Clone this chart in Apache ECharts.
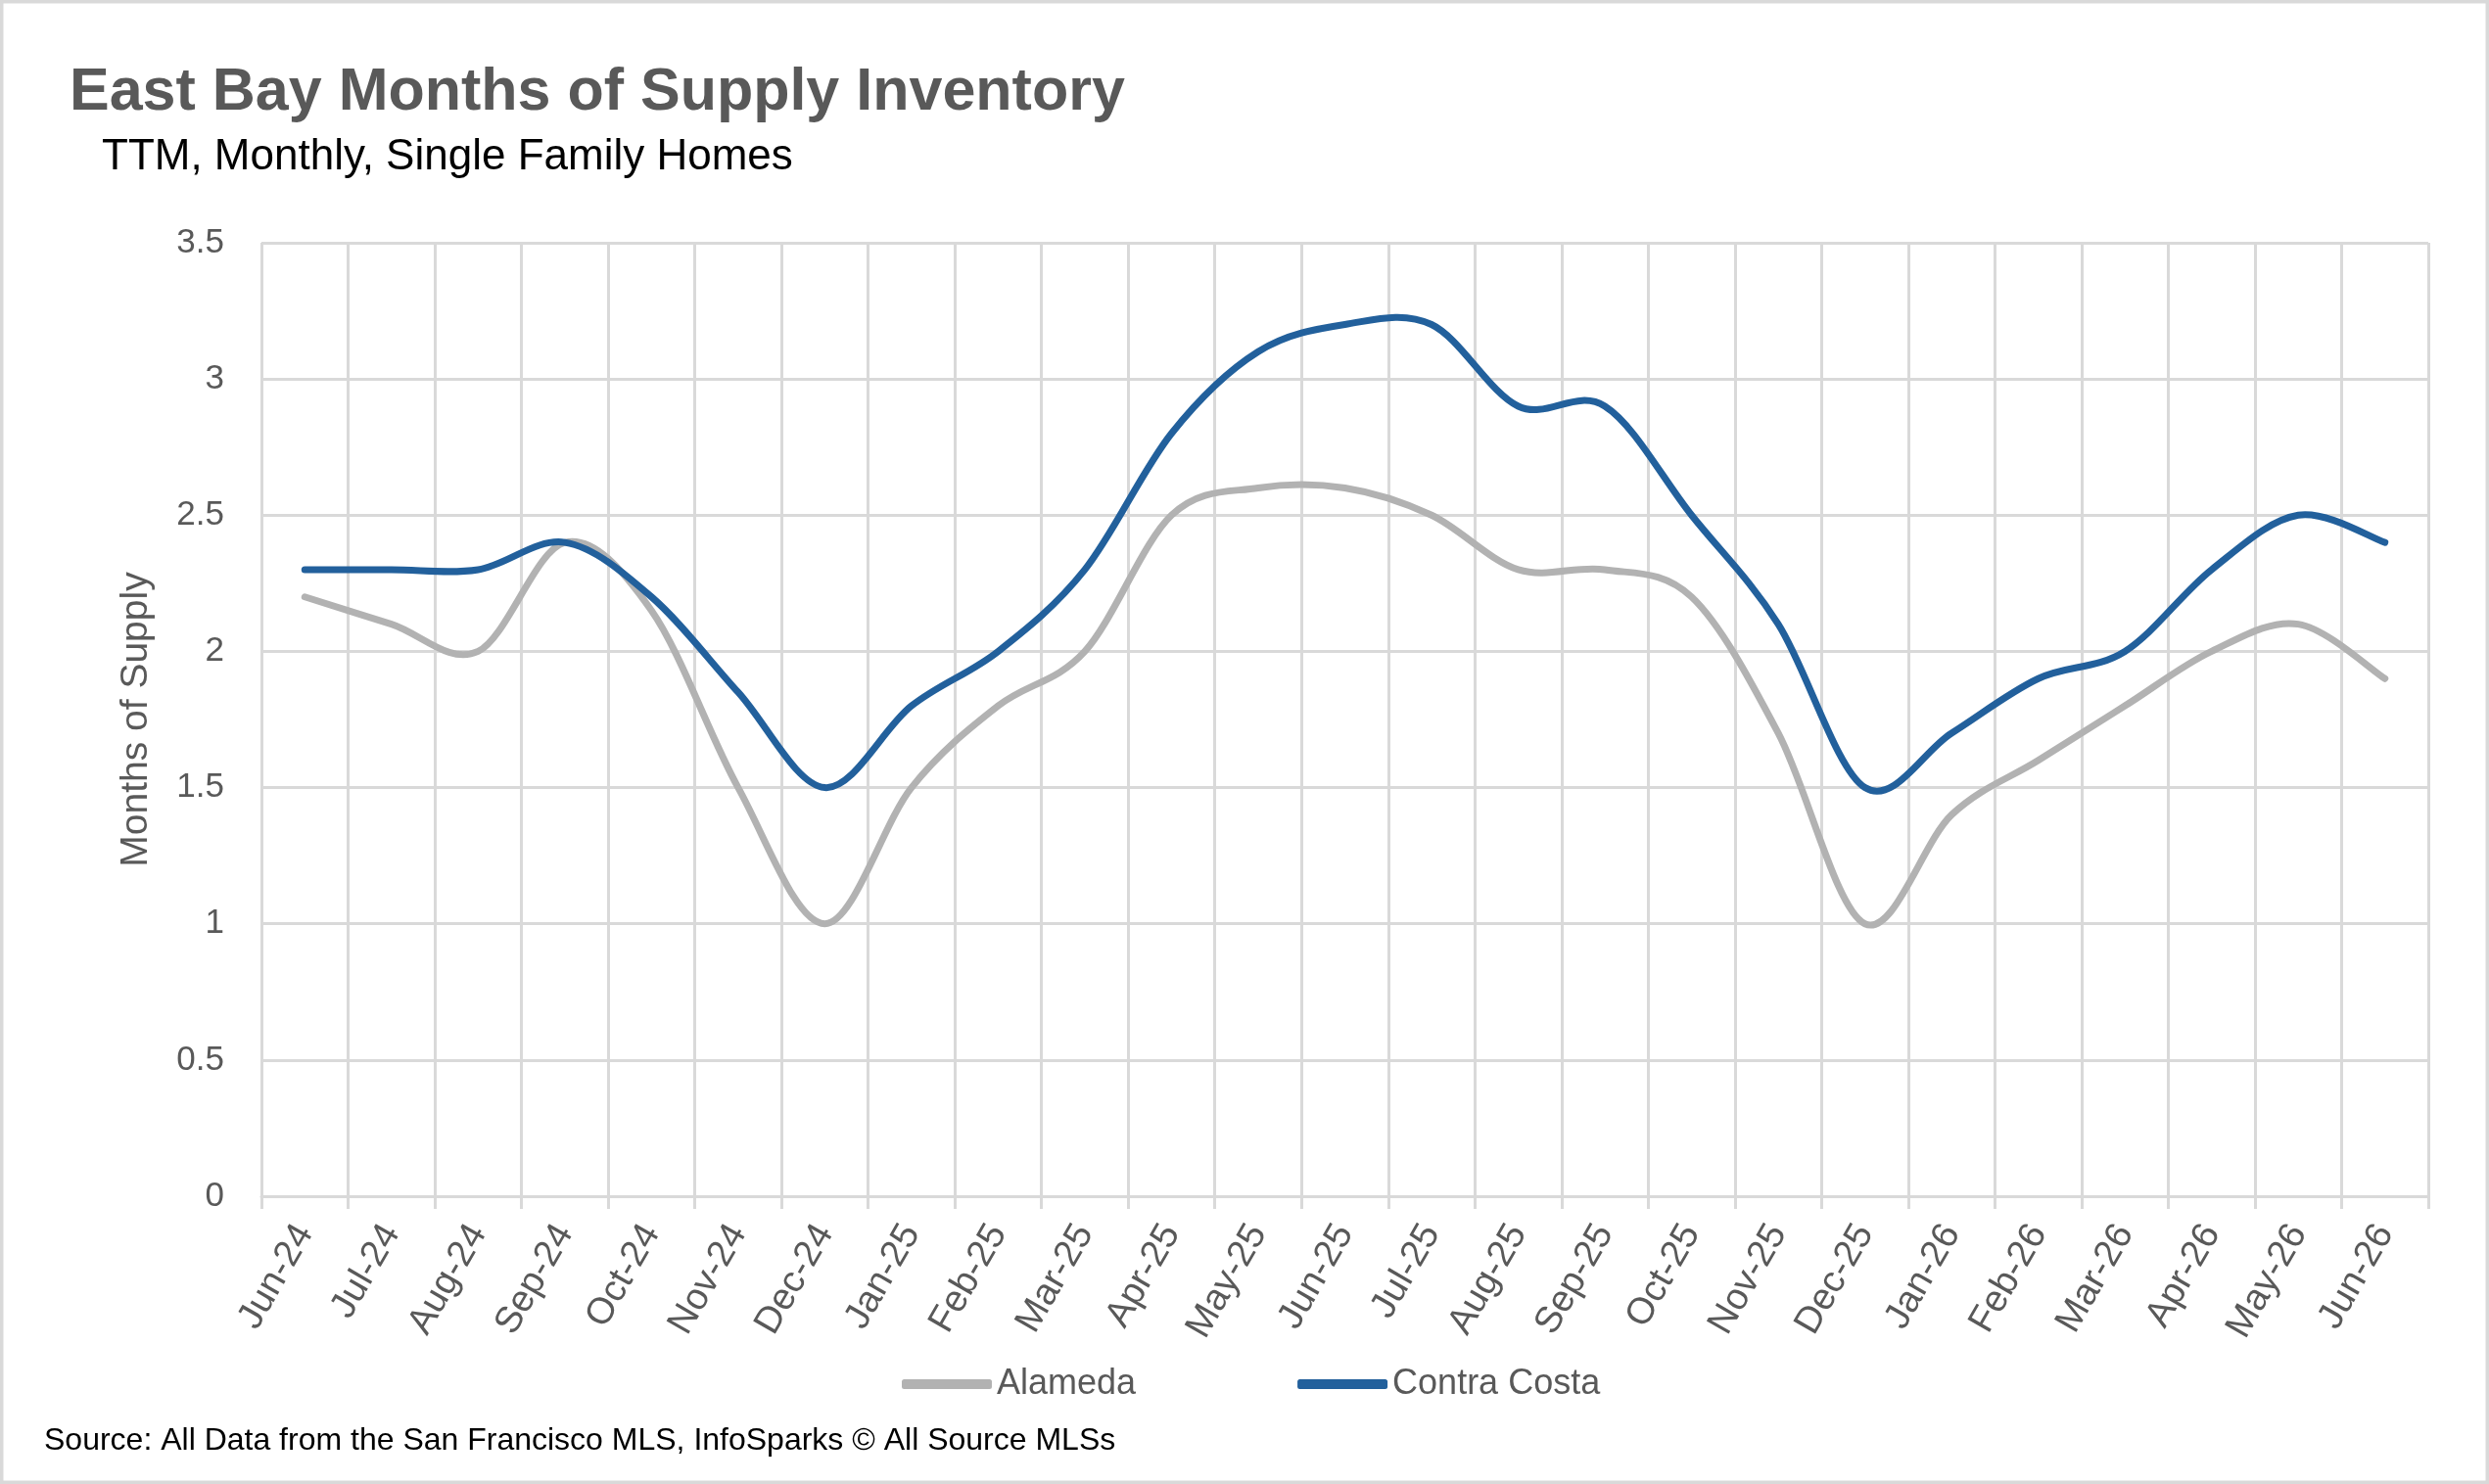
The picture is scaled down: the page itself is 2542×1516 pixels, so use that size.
<!DOCTYPE html>
<html lang="en">
  <head>
    <meta charset="UTF-8" />
    <script src="https://cdn.jsdelivr.net/npm/echarts/dist/echarts.min.js"></script>
    <style>
      html, body { margin: 0; padding: 0; background: #fff; }
      #main { width: 2542px; height: 1516px; }
    </style>
    <title>East Bay Months of Supply Inventory</title>
  </head>
  <body>
    <div id="main"></div>
    <script>
      const months = [
        "Jun-24", "Jul-24", "Aug-24", "Sep-24", "Oct-24", "Nov-24", "Dec-24",
        "Jan-25", "Feb-25", "Mar-25", "Apr-25", "May-25", "Jun-25", "Jul-25",
        "Aug-25", "Sep-25", "Oct-25", "Nov-25", "Dec-25", "Jan-26", "Feb-26",
        "Mar-26", "Apr-26", "May-26", "Jun-26",
      ];
      const alameda = [
        2.2, 2.1, 2.0, 2.4, 2.15, 1.5, 1.0, 1.5, 1.8, 2.0, 2.5, 2.6, 2.6,
        2.5, 2.3, 2.3, 2.2, 1.7, 1.0, 1.4, 1.6, 1.8, 2.0, 2.1, 1.9,
      ];
      const contraCosta = [
        2.3, 2.3, 2.3, 2.4, 2.2, 1.85, 1.5, 1.8, 2.0, 2.3, 2.8, 3.1, 3.2,
        3.2, 2.9, 2.9, 2.5, 2.1, 1.5, 1.7, 1.9, 2.0, 2.3, 2.5, 2.4,
      ];
      const yTicks = { min: 0, max: 3.5, interval: 0.5 };

      const grey = "#595959";
      const gridColor = "#d9d9d9";
      const font = "'Liberation Sans', Arial, sans-serif";

      // Excel-style smoothed line (Catmull-Rom through every point),
      // positions come from the chart's own axes via api.coord
      function smoothLine(values, color) {
        return function (params, api) {
          if (params.dataIndex !== 0) return null;
          const pts = values.map((v, i) => api.coord([i, v]));
          const n = pts.length;
          let d = "M" + pts[0][0] + "," + pts[0][1];
          for (let i = 0; i < n - 1; i++) {
            const p0 = pts[Math.max(i - 1, 0)];
            const p1 = pts[i];
            const p2 = pts[i + 1];
            const p3 = pts[Math.min(i + 2, n - 1)];
            const c1x = p1[0] + (p2[0] - p0[0]) / 6;
            const c1y = p1[1] + (p2[1] - p0[1]) / 6;
            const c2x = p2[0] - (p3[0] - p1[0]) / 6;
            const c2y = p2[1] - (p3[1] - p1[1]) / 6;
            d += " C" + c1x + "," + c1y + " " + c2x + "," + c2y + " " + p2[0] + "," + p2[1];
          }
          return {
            type: "path",
            shape: { pathData: d },
            style: {
              fill: "none",
              stroke: color,
              lineWidth: 7,
              lineCap: "round",
              lineJoin: "round",
            },
          };
        };
      }

      const chart = echarts.init(document.getElementById("main"), null, {
        renderer: "canvas",
      });

      chart.setOption({
        backgroundColor: "#fff",
        animation: false,
        textStyle: { fontFamily: font },
        title: [
          {
            text: "East Bay Months of Supply Inventory",
            left: 66,
            top: 60,
            textStyle: {
              fontFamily: font,
              fontSize: 61,
              fontWeight: "bold",
              color: grey,
            },
          },
          {
            text: "TTM, Monthly, Single Family Homes",
            left: 99,
            top: 134,
            textStyle: {
              fontFamily: font,
              fontSize: 44,
              fontWeight: "normal",
              color: "#000",
            },
          },
          {
            text: "Source: All Data from the San Francisco MLS, InfoSparks \u00a9 All Source MLSs",
            left: 40,
            top: 1451,
            textStyle: {
              fontFamily: font,
              fontSize: 32,
              fontWeight: "normal",
              color: "#000",
            },
          },
        ],
        legend: {
          left: 916,
          top: 1391,
          icon: "roundRect",
          itemWidth: 92,
          itemHeight: 10,
          itemGap: 165,
          textStyle: { fontFamily: font, fontSize: 36, color: grey },
          data: ["Alameda", "Contra Costa"],
        },
        grid: { left: 267, right: 62, top: 248, bottom: 294, containLabel: false },
        xAxis: {
          type: "category",
          data: months,
          boundaryGap: true,
          axisLine: { show: true, lineStyle: { color: gridColor, width: 3 } },
          axisTick: { show: true, length: 13, lineStyle: { color: gridColor, width: 3 } },
          splitLine: { show: true, lineStyle: { color: gridColor, width: 3 } },
          axisLabel: {
            rotate: 60,
            margin: 32,
            fontSize: 38,
            color: grey,
            fontFamily: font,
            interval: 0,
          },
        },
        yAxis: {
          type: "value",
          min: yTicks.min,
          max: yTicks.max,
          interval: yTicks.interval,
          name: "Months of Supply",
          nameLocation: "middle",
          nameGap: 108,
          nameTextStyle: { fontSize: 39, color: grey, fontFamily: font },
          axisLine: { show: false },
          axisTick: { show: false },
          splitLine: { show: true, lineStyle: { color: gridColor, width: 3 } },
          axisLabel: { fontSize: 35, color: grey, margin: 38, fontFamily: font },
        },
        series: [
          {
            name: "Alameda",
            type: "custom",
            data: alameda.map((v, i) => [i, v]),
            encode: { x: 0, y: 1 },
            itemStyle: { color: "#b2b2b2" },
            renderItem: smoothLine(alameda, "#b2b2b2"),
            z: 2,
          },
          {
            name: "Contra Costa",
            type: "custom",
            data: contraCosta.map((v, i) => [i, v]),
            encode: { x: 0, y: 1 },
            itemStyle: { color: "#22609c" },
            renderItem: smoothLine(contraCosta, "#22609c"),
            z: 3,
          },
        ],
        graphic: [
          {
            type: "rect",
            shape: { x: 1.5, y: 1.5, width: 2539, height: 1513 },
            style: { fill: "none", stroke: gridColor, lineWidth: 4 },
            silent: true,
          },
        ],
      });
    </script>
  </body>
</html>
